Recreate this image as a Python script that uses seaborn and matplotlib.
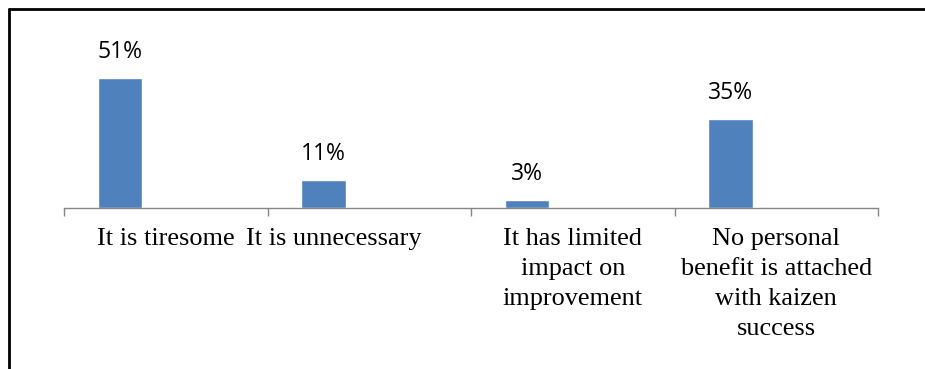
import matplotlib
matplotlib.use("Agg")
import matplotlib.pyplot as plt
import matplotlib.transforms as mtransforms
from matplotlib.lines import Line2D
import seaborn as sns
import pandas as pd

categories = ["It is tiresome", "It is unnecessary",
              "It has limited\nimpact on\nimprovement",
              "No personal\nbenefit is attached\nwith kaizen\nsuccess"]
values = [51, 11, 3, 35]
series_names = ["Share", "Empty"]

sns.set_theme(style="white")
plt.rcParams['font.family'] = ['Liberation Serif', 'DejaVu Serif']

df = pd.DataFrame({"cat": categories, "val": values, "series": series_names[0]})

fig = plt.figure(figsize=(9.25, 3.69), dpi=100)
W, H = 925, 369
ax = fig.add_axes([64 / W, (H - 208) / H, 814 / W, 153 / H])

sns.barplot(data=df, x="cat", y="val", hue="series", hue_order=series_names,
            order=categories, palette={series_names[0]: "#4F81BD", series_names[1]: "#C0504D"},
            width=0.9, gap=0.51, dodge=True, legend=False, ax=ax, errorbar=None,
            saturation=1)

ax.set_xlim(-0.5, len(categories) - 0.5)
ax.set_ylim(0, 60)
ax.set_xlabel("")
ax.set_ylabel("")
ax.set_yticks([])

for c in ax.containers:
    ax.bar_label(c, labels=[f"{int(v)}%" for v in c.datavalues], padding=10,
                 fontsize=16.5, family=['Open Sans', 'DejaVu Sans'], color="black")

for s in ["left", "right", "top"]:
    ax.spines[s].set_visible(False)
ax.spines["bottom"].set_color("#868686")
ax.spines["bottom"].set_linewidth(1.0)

ax.set_xticks(range(len(categories)))
ax.set_xticklabels(categories, fontsize=18.9, linespacing=1.46, color="black")
ax.tick_params(axis="x", which="major", bottom=True, length=0, pad=14.5)
ax.set_xticks([i - 0.5 for i in range(len(categories) + 1)], minor=True)
ax.tick_params(axis="x", which="minor", bottom=True, length=6, width=1,
               color="#868686", direction="out")

# Second label sits slightly left in the original
lbl = ax.get_xticklabels()[1]
lbl.set_transform(lbl.get_transform() + mtransforms.ScaledTranslation(-36 / 100, 0, fig.dpi_scale_trans))

# frame lines of the figure (top and left)
fig.add_artist(Line2D([9 / W, 1.0], [1 - 9 / H, 1 - 9 / H], color="black", lw=2, transform=fig.transFigure))
fig.add_artist(Line2D([9 / W, 9 / W], [0, 1 - 9 / H], color="black", lw=2, transform=fig.transFigure))

fig.savefig("out.png", dpi=100)
